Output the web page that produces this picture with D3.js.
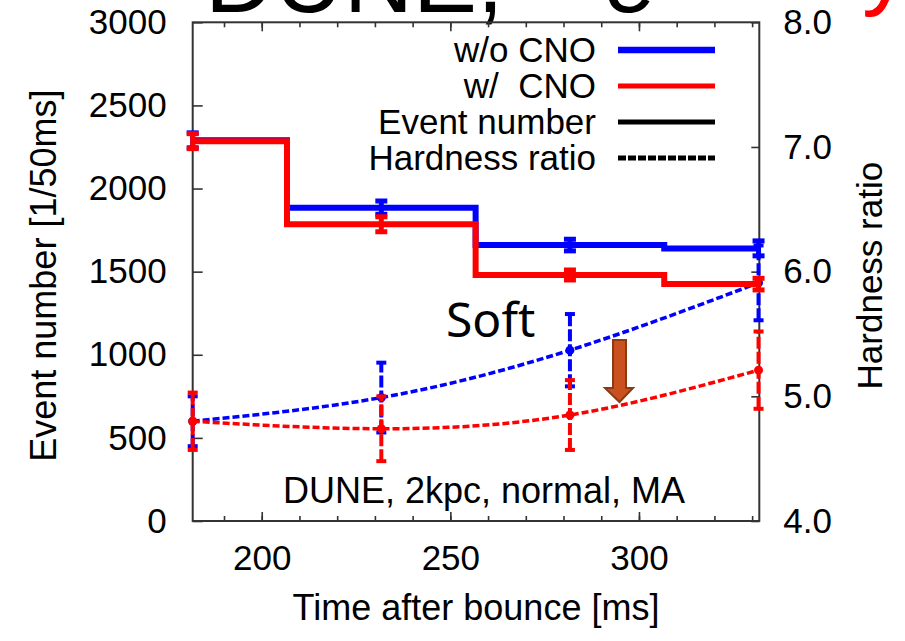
<!DOCTYPE html>
<html>
<head>
<meta charset="utf-8">
<script src="https://cdn.jsdelivr.net/npm/d3@7"></script>
<style>
    body { margin: 0; background: #fff; }
    svg text { font-family: "Liberation Sans", Arial, sans-serif; fill: #000; }
</style>
</head>
<body>
<div id="chart"></div>
<script>
// time bins (centre of each 50 ms bin)
const timeMs = [181.7, 231.7, 281.7, 331.7];

// event number [1/50ms]
const eventsNoCNO = [2290, 1885, 1660, 1640];
const eventsNoCNOErr = [45, 40, 35, 45];
const eventsCNO = [2285, 1785, 1480, 1425];
const eventsCNOErr = [45, 45, 30, 35];

// hardness ratio
const hardNoCNO = [4.80, 4.99, 5.37, 5.91];
const hardNoCNOErr = [0.2, 0.28, 0.29, 0.30];
const hardCNO = [4.80, 4.74, 4.85, 5.21];
const hardCNOErr = [0.23, 0.26, 0.28, 0.31];

const xMajor = [200, 250, 300];
const yLeftTicks = [0, 500, 1000, 1500, 2000, 2500, 3000];
const yRightTicks = [4, 5, 6, 7, 8];

const legendItems = ["w/o CNO", "w/\u00a0 CNO", "Event number", "Hardness ratio"];

const width = 905, height = 641;
const plotLeft = 192.7, plotRight = 759.3, plotTop = 22.3, plotBottom = 521;

const svg = d3.select("#chart")
    .append("svg")
    .attr("width", width)
    .attr("height", height);

svg.append("rect").attr("width", width).attr("height", height).attr("fill", "#fff");

const x = d3.scaleLinear().domain([181.7, 331.9]).range([plotLeft, plotRight]);
const y = d3.scaleLinear().domain([0, 3000]).range([plotBottom, plotTop]);
const yR = d3.scaleLinear().domain([4, 8]).range([plotBottom, plotTop]);

// cut-off slide title at the very top
const title = svg.append("text")
    .attr("x", 205)
    .attr("y", 12)
    .style("font-size", "96px");
title.append("tspan").text("DUNE, ");
title.append("tspan").attr("x", 605).style("font-style", "italic").text("e");
title.append("tspan").attr("x", 862).attr("y", -3).style("fill", "red").text("y");

// axes
const minor = d3.range(190, 332, 10);

const gAxes = svg.append("g").attr("class", "axes");

gAxes.append("g")
    .attr("transform", `translate(0,${plotBottom})`)
    .call(d3.axisBottom(x).tickValues(minor).tickSize(-5).tickFormat(""));
gAxes.append("g")
    .attr("transform", `translate(0,${plotBottom})`)
    .call(d3.axisBottom(x).tickValues(xMajor).tickSize(-9).tickPadding(24).tickFormat(d3.format("d")));
gAxes.append("g")
    .attr("transform", `translate(0,${plotTop})`)
    .call(d3.axisTop(x).tickValues(minor).tickSize(-5).tickFormat(""));
gAxes.append("g")
    .attr("transform", `translate(0,${plotTop})`)
    .call(d3.axisTop(x).tickValues(xMajor).tickSize(-9).tickFormat(""));
gAxes.append("g")
    .attr("transform", `translate(${plotLeft},0)`)
    .call(d3.axisLeft(y).tickValues(yLeftTicks).tickSize(-10).tickPadding(26).tickFormat(d3.format("d")));
gAxes.append("g")
    .attr("transform", `translate(${plotRight},0)`)
    .call(d3.axisRight(yR).tickValues(yRightTicks).tickSize(-8).tickPadding(24).tickFormat(d3.format(".1f")));

gAxes.selectAll(".domain").remove();
gAxes.selectAll(".tick line").attr("stroke", "#333").attr("stroke-width", 1.6);
gAxes.selectAll(".tick text").style("font-size", "35px").attr("fill", "#000");

svg.append("rect")
    .attr("x", plotLeft).attr("y", plotTop)
    .attr("width", plotRight - plotLeft).attr("height", plotBottom - plotTop)
    .attr("fill", "none")
    .attr("stroke", "#333")
    .attr("stroke-width", 2);

// axis titles
svg.append("text")
    .attr("transform", `translate(56,${(plotTop + plotBottom) / 2 + 4}) rotate(-90)`)
    .attr("text-anchor", "middle")
    .style("font-size", "36px")
    .text("Event number [1/50ms]");

svg.append("text")
    .attr("transform", `translate(882,${(plotTop + plotBottom) / 2 + 4}) rotate(-90)`)
    .attr("text-anchor", "middle")
    .style("font-size", "35px")
    .text("Hardness ratio");

svg.append("text")
    .attr("x", (plotLeft + plotRight) / 2)
    .attr("y", 620)
    .attr("text-anchor", "middle")
    .style("font-size", "36px")
    .text("Time after bounce [ms]");

// hardness ratio curves (dotted) with dashed error bars
function drawHardness(vals, errs, color) {
    const pts = timeMs.map((t, i) => ({ t, v: vals[i], e: errs[i] }));
    const g = svg.append("g");

    g.append("path")
        .datum(pts)
        .attr("d", d3.line().x(d => x(d.t)).y(d => yR(d.v)).curve(d3.curveNatural))
        .attr("fill", "none")
        .attr("stroke", color)
        .attr("stroke-width", 3.5)
        .attr("stroke-dasharray", "7,3");

    const bars = g.selectAll(".hbar").data(pts).enter().append("g");
    bars.append("line")
        .attr("x1", d => x(d.t)).attr("x2", d => x(d.t))
        .attr("y1", d => yR(d.v - d.e)).attr("y2", d => yR(d.v + d.e))
        .attr("stroke", color)
        .attr("stroke-width", 4)
        .attr("stroke-dasharray", "12,3");
    bars.selectAll(".cap")
        .data(d => [d.v - d.e, d.v + d.e].map(v => ({ t: d.t, v })))
        .enter().append("line")
        .attr("x1", d => x(d.t) - 5).attr("x2", d => x(d.t) + 5)
        .attr("y1", d => yR(d.v)).attr("y2", d => yR(d.v))
        .attr("stroke", color)
        .attr("stroke-width", 4);
    bars.append("circle")
        .attr("cx", d => x(d.t)).attr("cy", d => yR(d.v))
        .attr("r", 4.5)
        .attr("fill", color);
}

// event number histogram steps with error bars
function drawEvents(vals, errs, color, lw) {
    const pts = timeMs.map((t, i) => ({ t, v: vals[i], e: errs[i] }));
    const g = svg.append("g");

    g.append("path")
        .datum(pts)
        .attr("d", d3.line().x(d => x(d.t)).y(d => y(d.v)).curve(d3.curveStep))
        .attr("fill", "none")
        .attr("stroke", color)
        .attr("stroke-width", lw);

    const bars = g.selectAll(".ebar").data(pts).enter().append("g");
    bars.append("line")
        .attr("x1", d => x(d.t)).attr("x2", d => x(d.t))
        .attr("y1", d => y(d.v - d.e)).attr("y2", d => y(d.v + d.e))
        .attr("stroke", color)
        .attr("stroke-width", 5);
    bars.selectAll(".cap")
        .data(d => [d.v - d.e, d.v + d.e].map(v => ({ t: d.t, v })))
        .enter().append("line")
        .attr("x1", d => x(d.t) - 6).attr("x2", d => x(d.t) + 6)
        .attr("y1", d => y(d.v)).attr("y2", d => y(d.v))
        .attr("stroke", color)
        .attr("stroke-width", 5);
}

drawHardness(hardNoCNO, hardNoCNOErr, "#0000ff");
drawHardness(hardCNO, hardCNOErr, "#ff0000");
drawEvents(eventsNoCNO, eventsNoCNOErr, "#0000ff", 6);
drawEvents(eventsCNO, eventsCNOErr, "#ff0000", 6);

// legend
const legendRows = [50, 86, 122, 158];
const legendStyle = [
    { color: "#0000ff", w: 6.5, dash: null },
    { color: "#ff0000", w: 5, dash: null },
    { color: "#000", w: 5, dash: null },
    { color: "#000", w: 5, dash: "8,2" }
];
const legend = svg.append("g");
legendItems.forEach((label, i) => {
    legend.append("text")
        .attr("x", 596)
        .attr("y", legendRows[i] + 12)
        .attr("text-anchor", "end")
        .style("font-size", "35px")
        .text(label);
    legend.append("line")
        .attr("x1", 618).attr("x2", 715)
        .attr("y1", legendRows[i]).attr("y2", legendRows[i])
        .attr("stroke", legendStyle[i].color)
        .attr("stroke-width", legendStyle[i].w)
        .attr("stroke-dasharray", legendStyle[i].dash);
});

// annotations
svg.append("text")
    .attr("x", 446)
    .attr("y", 337)
    .style("font-family", "'Noto Sans', 'Open Sans', sans-serif")
    .style("font-size", "48px")
    .text("Soft");

svg.append("text")
    .attr("x", (plotLeft + plotRight) / 2 + 8)
    .attr("y", 503)
    .attr("text-anchor", "middle")
    .style("font-size", "36px")
    .text("DUNE, 2kpc, normal, MA");

svg.append("polygon")
    .attr("points", "613,340 626,340 626,388 633,388 619.5,402 605,388 613,388")
    .attr("fill", "#c8511f")
    .attr("stroke", "#8b3a12")
    .attr("stroke-width", 2);
</script>
</body>
</html>
